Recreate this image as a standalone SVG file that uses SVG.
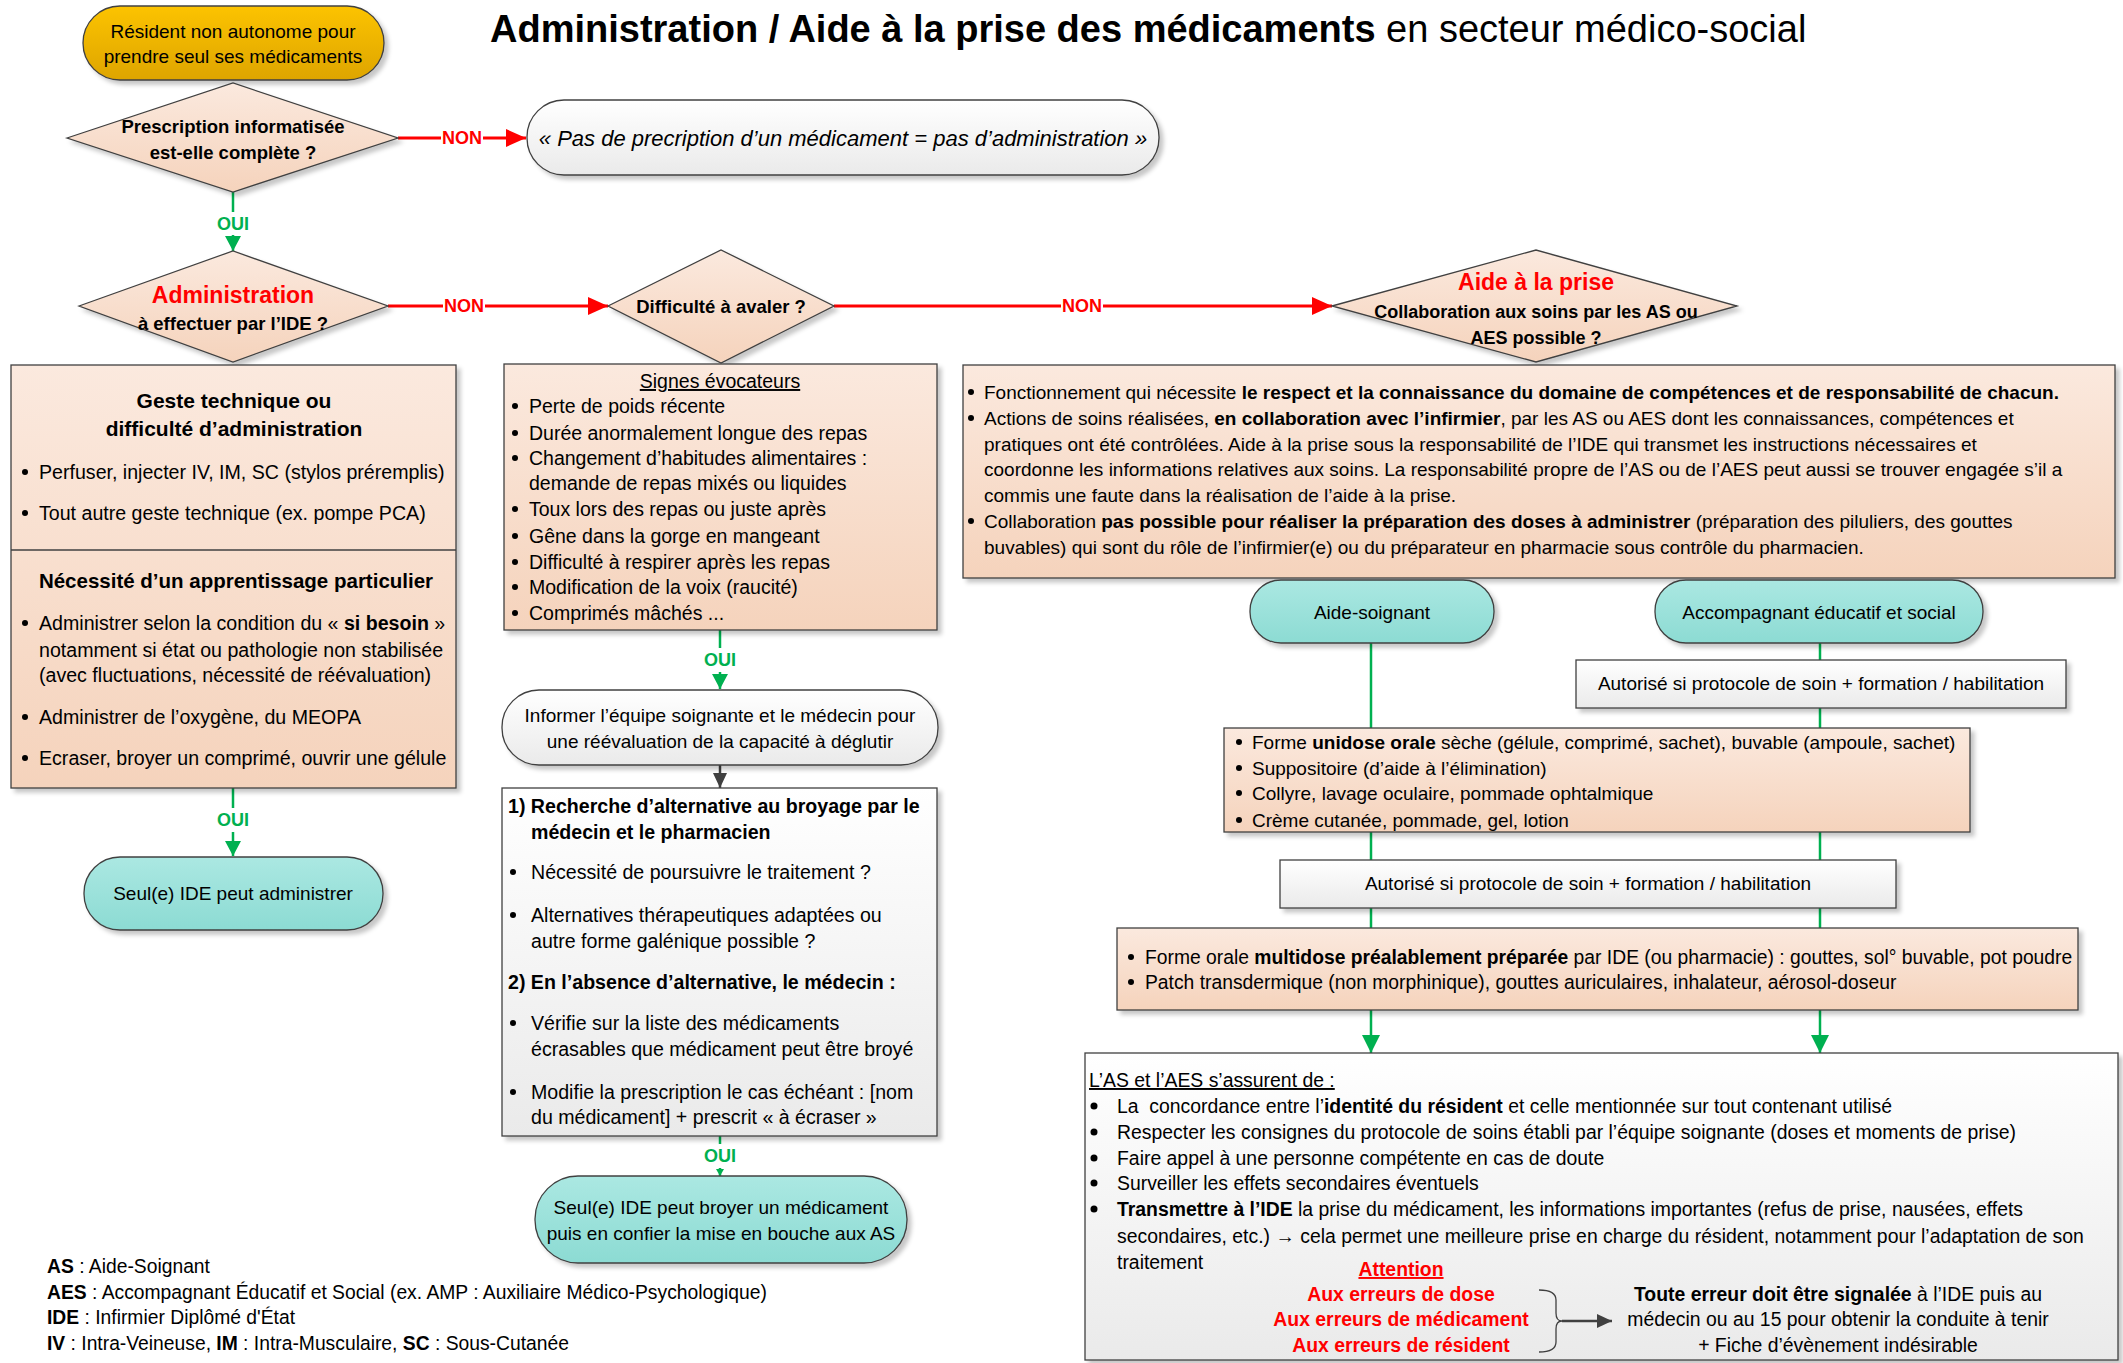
<svg xmlns="http://www.w3.org/2000/svg" width="2123" height="1363" viewBox="0 0 2123 1363">
<style>
text{font-family:"Liberation Sans",Arial,sans-serif;font-size:19px;fill:#000}
.b{font-weight:bold}
.i{font-style:italic}
.c{text-anchor:middle}
.u{text-decoration:underline}
.shp{stroke:#404040;stroke-width:1.3}
.peach{fill:url(#gPeach)}
.gray{fill:url(#gGray)}
.teal{fill:url(#gTeal)}
.gold{fill:url(#gGold)}
.sh{filter:url(#sh)}
.red{stroke:#ff0000;stroke-width:3;fill:none}
.grn{stroke:#00b050;stroke-width:2.5;fill:none}
.dk{stroke:#404040;stroke-width:2.5;fill:none}
.lr{fill:#ff0000;font-weight:bold;font-size:18px}
.lg{fill:#00b050;font-weight:bold;font-size:18px}
.rt{fill:#ff0000}
.bg{fill:#fff}
.bul{fill:#000}
#box-geste text,#box-alternative text{font-size:19.6px}
#box-signes text{font-size:19.5px}
#box-assurent text{font-size:19.4px}
#box-multidose text{font-size:19.3px}
#legend text{font-size:19.3px}
</style>
<defs>
<linearGradient id="gPeach" x1="0" y1="0" x2="0" y2="1"><stop offset="0" stop-color="#fbe9de"/><stop offset="1" stop-color="#f5d3bc"/></linearGradient>
<linearGradient id="gGray" x1="0" y1="0" x2="0" y2="1"><stop offset="0" stop-color="#ffffff"/><stop offset="1" stop-color="#eaeaea"/></linearGradient>
<linearGradient id="gTeal" x1="0" y1="0" x2="0" y2="1"><stop offset="0" stop-color="#abe8e2"/><stop offset="1" stop-color="#8cdbd3"/></linearGradient>
<linearGradient id="gGold" x1="0" y1="0" x2="0" y2="1"><stop offset="0" stop-color="#fcc300"/><stop offset="1" stop-color="#dea500"/></linearGradient>
<filter id="sh" x="-5%" y="-10%" width="115%" height="130%"><feDropShadow dx="4" dy="4" stdDeviation="2" flood-color="#000" flood-opacity="0.22"/></filter>
<marker id="aR" markerUnits="userSpaceOnUse" markerWidth="20" markerHeight="18" refX="20" refY="9" orient="auto"><path d="M0,0 L20,9 L0,18 z" fill="#ff0000"/></marker>
<marker id="aG" markerUnits="userSpaceOnUse" markerWidth="15" markerHeight="16" refX="15" refY="8" orient="auto"><path d="M0,0 L15,8 L0,16 z" fill="#00b050"/></marker>
<marker id="aGs" markerUnits="userSpaceOnUse" markerWidth="7" markerHeight="8" refX="7" refY="4" orient="auto"><path d="M0,0 L7,4 L0,8 z" fill="#00b050"/></marker>
<marker id="aG2" markerUnits="userSpaceOnUse" markerWidth="18" markerHeight="18" refX="18" refY="9" orient="auto"><path d="M0,0 L18,9 L0,18 z" fill="#00b050"/></marker>
<marker id="aD" markerUnits="userSpaceOnUse" markerWidth="15" markerHeight="14" refX="15" refY="7" orient="auto"><path d="M0,0 L15,7 L0,14 z" fill="#404040"/></marker>
</defs>
<rect width="2123" height="1363" fill="#fff"/>

<g id="title">
<text x="490" y="42" style="font-size:38px"><tspan class="b">Administration / Aide à la prise des médicaments</tspan> en secteur médico-social</text>
</g>

<g id="connectors">
<line class="red" x1="398" y1="138" x2="526" y2="138" marker-end="url(#aR)"/>
<rect class="bg" x="441" y="126" width="42" height="24"/>
<text class="lr c" x="462" y="144">NON</text>
<line class="red" x1="388" y1="306" x2="608" y2="306" marker-end="url(#aR)"/>
<rect class="bg" x="443" y="294" width="42" height="24"/>
<text class="lr c" x="464" y="312">NON</text>
<line class="red" x1="834" y1="306" x2="1332" y2="306" marker-end="url(#aR)"/>
<rect class="bg" x="1061" y="294" width="42" height="24"/>
<text class="lr c" x="1082" y="312">NON</text>

<line class="grn" x1="233" y1="192" x2="233" y2="251" marker-end="url(#aG)"/>
<rect class="bg" x="214" y="212" width="38" height="23"/>
<text class="lg c" x="233" y="230">OUI</text>

<line class="grn" x1="233" y1="788" x2="233" y2="856" marker-end="url(#aG)"/>
<rect class="bg" x="214" y="808" width="38" height="24"/>
<text class="lg c" x="233" y="826">OUI</text>

<line class="grn" x1="720" y1="630" x2="720" y2="689" marker-end="url(#aG)"/>
<rect class="bg" x="701" y="648" width="38" height="24"/>
<text class="lg c" x="720" y="666">OUI</text>

<line class="dk" x1="720" y1="765" x2="720" y2="788" marker-end="url(#aD)"/>

<line class="grn" x1="720" y1="1136" x2="720" y2="1176" marker-end="url(#aGs)"/>
<rect class="bg" x="701" y="1144" width="38" height="24"/>
<text class="lg c" x="720" y="1162">OUI</text>

<line class="grn" x1="1371" y1="643" x2="1371" y2="728"/>
<line class="grn" x1="1820" y1="643" x2="1820" y2="660"/>
<line class="grn" x1="1820" y1="708" x2="1820" y2="728"/>
<line class="grn" x1="1371" y1="832" x2="1371" y2="860"/>
<line class="grn" x1="1820" y1="832" x2="1820" y2="860"/>
<line class="grn" x1="1371" y1="908" x2="1371" y2="928"/>
<line class="grn" x1="1820" y1="908" x2="1820" y2="928"/>
<line class="grn" x1="1371" y1="1010" x2="1371" y2="1053" marker-end="url(#aG2)"/>
<line class="grn" x1="1820" y1="1010" x2="1820" y2="1053" marker-end="url(#aG2)"/>
</g>

<g id="start">
<rect class="shp gold sh" x="83" y="6" width="301" height="74" rx="37"/>
<text class="c" x="233" y="38">Résident non autonome pour</text>
<text class="c" x="233" y="63">prendre seul ses médicaments</text>
</g>

<g id="d-prescription">
<polygon class="shp peach sh" points="67,138 233,83 398,138 233,192"/>
<text class="b c" x="233" y="133" style="font-size:18.5px">Prescription informatisée</text>
<text class="b c" x="233" y="159" style="font-size:18.5px">est-elle complète ?</text>
</g>

<g id="pas-prescription">
<rect class="shp gray sh" x="527" y="100" width="632" height="75" rx="37"/>
<text class="i c" x="843" y="146" style="font-size:22px">« Pas de precription d’un médicament = pas d’administration »</text>
</g>

<g id="d-administration">
<polygon class="shp peach sh" points="79,306 233,251 388,306 233,362"/>
<text class="b c rt" x="233" y="303" style="font-size:23px">Administration</text>
<text class="b c" x="233" y="330" style="font-size:18.5px">à effectuer par l’IDE ?</text>
</g>

<g id="d-avaler">
<polygon class="shp peach sh" points="608,306 721,250 834,306 721,363"/>
<text class="b c" x="721" y="313" style="font-size:18.5px">Difficulté à avaler ?</text>
</g>

<g id="d-aide">
<polygon class="shp peach sh" points="1332,306 1536,250 1737,306 1536,362"/>
<text class="b c rt" x="1536" y="290" style="font-size:23px">Aide à la prise</text>
<text class="b c" x="1536" y="318" style="font-size:18px">Collaboration aux soins par les AS ou</text>
<text class="b c" x="1536" y="344" style="font-size:18px">AES possible ?</text>
</g>

<g id="box-geste">
<rect class="shp peach sh" x="11" y="365" width="445" height="423"/>
<line x1="11" y1="550" x2="456" y2="550" stroke="#404040" stroke-width="1.3"/>
<text class="b c" x="234" y="408" style="font-size:21px">Geste technique ou</text>
<text class="b c" x="234" y="436" style="font-size:21px">difficulté d’administration</text>
<circle class="bul" cx="25" cy="472" r="3"/><text x="39" y="479">Perfuser, injecter IV, IM, SC (stylos préremplis)</text>
<circle class="bul" cx="25" cy="513" r="3"/><text x="39" y="520">Tout autre geste technique (ex. pompe PCA)</text>
<text class="b c" x="236" y="588" style="font-size:20.5px">Nécessité d’un apprentissage particulier</text>
<circle class="bul" cx="25" cy="623" r="3"/><text x="39" y="630">Administrer selon la condition du « <tspan class="b">si besoin</tspan> »</text>
<text x="39" y="657">notamment si état ou pathologie non stabilisée</text>
<text x="39" y="682">(avec fluctuations, nécessité de réévaluation)</text>
<circle class="bul" cx="25" cy="717" r="3"/><text x="39" y="724">Administrer de l’oxygène, du MEOPA</text>
<circle class="bul" cx="25" cy="758" r="3"/><text x="39" y="765">Ecraser, broyer un comprimé, ouvrir une gélule</text>
</g>

<g id="seul-ide">
<rect class="shp teal sh" x="84" y="857" width="299" height="73" rx="36"/>
<text class="c" x="233" y="900">Seul(e) IDE peut administrer</text>
</g>

<g id="box-signes">
<rect class="shp peach sh" x="504" y="364" width="433" height="266"/>
<text class="c u" x="720" y="388">Signes évocateurs</text>
<circle class="bul" cx="515" cy="406" r="3"/><text x="529" y="413">Perte de poids récente</text>
<circle class="bul" cx="515" cy="433" r="3"/><text x="529" y="440">Durée anormalement longue des repas</text>
<circle class="bul" cx="515" cy="458" r="3"/><text x="529" y="465">Changement d’habitudes alimentaires :</text>
<text x="529" y="490">demande de repas mixés ou liquides</text>
<circle class="bul" cx="515" cy="509" r="3"/><text x="529" y="516">Toux lors des repas ou juste après</text>
<circle class="bul" cx="515" cy="536" r="3"/><text x="529" y="543">Gêne dans la gorge en mangeant</text>
<circle class="bul" cx="515" cy="562" r="3"/><text x="529" y="569">Difficulté à respirer après les repas</text>
<circle class="bul" cx="515" cy="587" r="3"/><text x="529" y="594">Modification de la voix (raucité)</text>
<circle class="bul" cx="515" cy="613" r="3"/><text x="529" y="620">Comprimés mâchés ...</text>
</g>

<g id="informer">
<rect class="shp gray sh" x="502" y="690" width="436" height="75" rx="37"/>
<text class="c" x="720" y="722">Informer l’équipe soignante et le médecin pour</text>
<text class="c" x="720" y="748">une réévaluation de la capacité à déglutir</text>
</g>

<g id="box-alternative">
<rect class="shp gray sh" x="502" y="788" width="435" height="348"/>
<text class="b" x="508" y="813">1) Recherche d’alternative au broyage par le</text>
<text class="b" x="531" y="839">médecin et le pharmacien</text>
<circle class="bul" cx="513" cy="872" r="3"/><text x="531" y="879">Nécessité de poursuivre le traitement ?</text>
<circle class="bul" cx="513" cy="915" r="3"/><text x="531" y="922">Alternatives thérapeutiques adaptées ou</text>
<text x="531" y="948">autre forme galénique possible ?</text>
<text class="b" x="508" y="989">2) En l’absence d’alternative, le médecin :</text>
<circle class="bul" cx="513" cy="1023" r="3"/><text x="531" y="1030">Vérifie sur la liste des médicaments</text>
<text x="531" y="1056">écrasables que médicament peut être broyé</text>
<circle class="bul" cx="513" cy="1092" r="3"/><text x="531" y="1099">Modifie la prescription le cas échéant : [nom</text>
<text x="531" y="1124">du médicament] + prescrit « à écraser »</text>
</g>

<g id="seul-ide-broyer">
<rect class="shp teal sh" x="535" y="1176" width="372" height="87" rx="43"/>
<text class="c" x="721" y="1214">Seul(e) IDE peut broyer un médicament</text>
<text class="c" x="721" y="1240">puis en confier la mise en bouche aux AS</text>
</g>

<g id="box-collaboration">
<rect class="shp peach sh" x="963" y="365" width="1152" height="213"/>
<circle class="bul" cx="971" cy="392" r="3"/><text x="984" y="399">Fonctionnement qui nécessite <tspan class="b">le respect et la connaissance du domaine de compétences et de responsabilité de chacun.</tspan></text>
<circle class="bul" cx="971" cy="418" r="3"/><text x="984" y="425">Actions de soins réalisées, <tspan class="b">en collaboration avec l’infirmier</tspan>, par les AS ou AES dont les connaissances, compétences et</text>
<text x="984" y="451">pratiques ont été contrôlées. Aide à la prise sous la responsabilité de l’IDE qui transmet les instructions nécessaires et</text>
<text x="984" y="476">coordonne les informations relatives aux soins. La responsabilité propre de l’AS ou de l’AES peut aussi se trouver engagée s’il a</text>
<text x="984" y="502">commis une faute dans la réalisation de l’aide à la prise.</text>
<circle class="bul" cx="971" cy="521" r="3"/><text x="984" y="528">Collaboration <tspan class="b">pas possible pour réaliser la préparation des doses à administrer</tspan> (préparation des piluliers, des gouttes</text>
<text x="984" y="554">buvables) qui sont du rôle de l’infirmier(e) ou du préparateur en pharmacie sous contrôle du pharmacien.</text>
</g>

<g id="aide-soignant">
<rect class="shp teal sh" x="1250" y="580" width="244" height="63" rx="31"/>
<text class="c" x="1372" y="619">Aide-soignant</text>
</g>

<g id="aes">
<rect class="shp teal sh" x="1655" y="580" width="328" height="63" rx="31"/>
<text class="c" x="1819" y="619">Accompagnant éducatif et social</text>
</g>

<g id="autorise-1">
<rect class="shp gray sh" x="1576" y="660" width="490" height="48"/>
<text class="c" x="1821" y="690">Autorisé si protocole de soin + formation / habilitation</text>
</g>

<g id="box-unidose">
<rect class="shp peach sh" x="1224" y="728" width="746" height="104"/>
<circle class="bul" cx="1239" cy="742" r="3"/><text x="1252" y="749">Forme <tspan class="b">unidose orale</tspan> sèche (gélule, comprimé, sachet), buvable (ampoule, sachet)</text>
<circle class="bul" cx="1239" cy="768" r="3"/><text x="1252" y="775">Suppositoire (d’aide à l’élimination)</text>
<circle class="bul" cx="1239" cy="793" r="3"/><text x="1252" y="800">Collyre, lavage oculaire, pommade ophtalmique</text>
<circle class="bul" cx="1239" cy="820" r="3"/><text x="1252" y="827">Crème cutanée, pommade, gel, lotion</text>
</g>

<g id="autorise-2">
<rect class="shp gray sh" x="1280" y="860" width="616" height="48"/>
<text class="c" x="1588" y="890">Autorisé si protocole de soin + formation / habilitation</text>
</g>

<g id="box-multidose">
<rect class="shp peach sh" x="1117" y="928" width="961" height="82"/>
<circle class="bul" cx="1131" cy="957" r="3"/><text x="1145" y="964">Forme orale <tspan class="b">multidose préalablement préparée</tspan> par IDE (ou pharmacie) : gouttes, sol° buvable, pot poudre</text>
<circle class="bul" cx="1131" cy="982" r="3"/><text x="1145" y="989">Patch transdermique (non morphinique), gouttes auriculaires, inhalateur, aérosol-doseur</text>
</g>

<g id="box-assurent">
<rect class="shp gray sh" x="1085" y="1053" width="1033" height="307"/>
<text class="u" x="1089" y="1087">L’AS et l’AES s’assurent de :</text>
<circle class="bul" cx="1094" cy="1106" r="3.5"/><text x="1117" y="1113" xml:space="preserve">La  concordance entre l’<tspan class="b">identité du résident</tspan> et celle mentionnée sur tout contenant utilisé</text>
<circle class="bul" cx="1094" cy="1132" r="3.5"/><text x="1117" y="1139">Respecter les consignes du protocole de soins établi par l’équipe soignante (doses et moments de prise)</text>
<circle class="bul" cx="1094" cy="1158" r="3.5"/><text x="1117" y="1165">Faire appel à une personne compétente en cas de doute</text>
<circle class="bul" cx="1094" cy="1183" r="3.5"/><text x="1117" y="1190">Surveiller les effets secondaires éventuels</text>
<circle class="bul" cx="1094" cy="1209" r="3.5"/><text x="1117" y="1216"><tspan class="b">Transmettre à l’IDE</tspan> la prise du médicament, les informations importantes (refus de prise, nausées, effets</text>
<text x="1117" y="1243">secondaires, etc.) → cela permet une meilleure prise en charge du résident, notamment pour l’adaptation de son</text>
<text x="1117" y="1269">traitement</text>
<text class="b c u rt" x="1401" y="1276">Attention</text>
<text class="b c rt" x="1401" y="1301">Aux erreurs de dose</text>
<text class="b c rt" x="1401" y="1326">Aux erreurs de médicament</text>
<text class="b c rt" x="1401" y="1352">Aux erreurs de résident</text>
<path d="M1539,1290 Q1556,1290 1556,1300 L1556,1313 Q1556,1321 1562,1321 Q1556,1321 1556,1329 L1556,1342 Q1556,1352 1539,1352" fill="none" stroke="#404040" stroke-width="1.3"/>
<line class="dk" x1="1562" y1="1321" x2="1612" y2="1321" marker-end="url(#aD)"/>
<text class="c" x="1838" y="1301"><tspan class="b">Toute erreur doit être signalée</tspan> à l’IDE puis au</text>
<text class="c" x="1838" y="1326">médecin ou au 15 pour obtenir la conduite à tenir</text>
<text class="c" x="1838" y="1352">+ Fiche d’évènement indésirable</text>
</g>

<g id="legend">
<text x="47" y="1273"><tspan class="b">AS</tspan> : Aide-Soignant</text>
<text x="47" y="1299"><tspan class="b">AES</tspan> : Accompagnant Éducatif et Social (ex. AMP : Auxiliaire Médico-Psychologique)</text>
<text x="47" y="1324"><tspan class="b">IDE</tspan> : Infirmier Diplômé d'État</text>
<text x="47" y="1350"><tspan class="b">IV</tspan> : Intra-Veineuse, <tspan class="b">IM</tspan> : Intra-Musculaire, <tspan class="b">SC</tspan> : Sous-Cutanée</text>
</g>
</svg>
